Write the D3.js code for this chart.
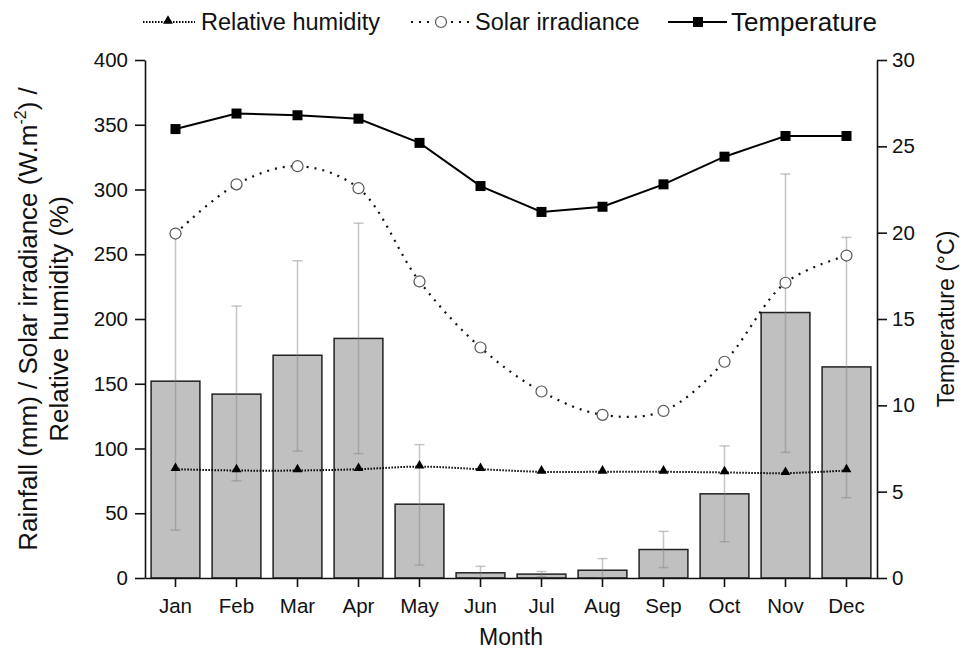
<!DOCTYPE html>
<html>
<head>
<meta charset="utf-8">
<script src="https://cdn.jsdelivr.net/npm/d3@7"></script>
<style>
  body { margin: 0; background: #fff; }
  svg text { font-family: Arial, "Liberation Sans", sans-serif; fill: #111; }
</style>
</head>
<body>
<div class="chart"></div>
<script>
// monthly values
var months = ["Jan","Feb","Mar","Apr","May","Jun","Jul","Aug","Sep","Oct","Nov","Dec"];
var rainfall     = [152, 142, 172, 185, 57, 4, 3, 6, 22, 65, 205, 163];
var rainfallLow  = [37, 75, 98, 96, 10, 0, 1, 0, 8, 28, 97, 62];
var rainfallHigh = [265, 210, 245, 274, 103, 9, 5, 15, 36, 102, 312, 263];
var humidity     = [84, 83, 83, 84, 86, 84, 82, 82, 82, 81.5, 81, 83];
var solar        = [266, 304, 318, 301, 229, 178, 144, 126, 129, 167, 228, 249];
var temperature  = [26.0, 26.9, 26.8, 26.6, 25.2, 22.7, 21.2, 21.5, 22.8, 24.4, 25.6, 25.6];
var leftTicks  = [0, 50, 100, 150, 200, 250, 300, 350, 400];
var rightTicks = [0, 5, 10, 15, 20, 25, 30];

function wrapper(){

  var w = 965, h = 649;
  var plot = {left: 145, right: 877, top: 60, bottom: 578};

  var svg = d3.select("div.chart")
              .append("svg")
              .attr("width", w)
              .attr("height", h);

  var x = d3.scaleBand()
            .domain(months)
            .range([plot.left, plot.right])
            .paddingInner(0.2)
            .paddingOuter(0.1);
  var yL = d3.scaleLinear().domain([0, 400]).range([plot.bottom, plot.top]);
  var yR = d3.scaleLinear().domain([0, 30]).range([plot.bottom, plot.top]);

  var cx = function(i){ return x(months[i]) + x.bandwidth()/2; };

  var rows = months.map(function(m, i){
    return {
      month: m,
      rain: rainfall[i],
      lo: rainfallLow[i],
      hi: rainfallHigh[i],
      rh: humidity[i],
      solar: solar[i],
      temp: temperature[i],
      i: i
    };
  });

  //bars
  svg.append("g")
     .selectAll("rect")
     .data(rows)
     .enter()
     .append("rect")
        .attr("x", d => x(d.month))
        .attr("y", d => yL(d.rain))
        .attr("width", x.bandwidth())
        .attr("height", d => yL(0) - yL(d.rain))
        .attr("fill", "#c0c0c0")
        .attr("stroke", "#222")
        .attr("stroke-width", 1.5);

  //error bars
  var err = svg.append("g")
               .attr("stroke", "#808080")
               .attr("stroke-opacity", 0.45)
               .attr("stroke-width", 1.5);
  err.selectAll(".stem")
     .data(rows)
     .enter()
     .append("line")
        .attr("x1", d => cx(d.i))
        .attr("x2", d => cx(d.i))
        .attr("y1", d => yL(d.lo))
        .attr("y2", d => yL(d.hi));
  ["lo", "hi"].forEach(function(k){
    err.selectAll(".cap-" + k)
       .data(rows)
       .enter()
       .append("line")
          .attr("x1", d => cx(d.i) - 5)
          .attr("x2", d => cx(d.i) + 5)
          .attr("y1", d => yL(d[k]))
          .attr("y2", d => yL(d[k]));
  });

  //axes
  function styleAxis(g){
    g.selectAll("path, line").attr("stroke", "#111").attr("stroke-width", 1.6);
    g.selectAll("text").attr("font-size", 20.5).attr("fill", "#111");
  }

  svg.append("g")
     .attr("transform", `translate(${plot.left},0)`)
     .call(d3.axisLeft(yL).tickValues(leftTicks).tickSize(10).tickPadding(7).tickSizeOuter(0))
     .call(styleAxis);

  svg.append("g")
     .attr("transform", `translate(${plot.right},0)`)
     .call(d3.axisRight(yR).tickValues(rightTicks).tickSize(10).tickPadding(5).tickSizeOuter(0))
     .call(styleAxis);

  svg.append("g")
     .attr("transform", `translate(0,${plot.bottom})`)
     .call(d3.axisBottom(x).tickSize(9).tickPadding(11).tickSizeOuter(0))
     .call(styleAxis);

  //humidity line
  var rhLine = d3.line()
                 .x(d => cx(d.i))
                 .y(d => yL(d.rh))
                 .curve(d3.curveCatmullRom);
  svg.append("path")
     .datum(rows)
     .attr("d", rhLine)
     .attr("fill", "none")
     .attr("stroke", "#000")
     .attr("stroke-width", 2)
     .attr("stroke-dasharray", "1.5,1.5");

  //solar line
  var solarLine = d3.line()
                    .x(d => cx(d.i))
                    .y(d => yL(d.solar))
                    .curve(d3.curveCatmullRom);
  svg.append("path")
     .datum(rows)
     .attr("d", solarLine)
     .attr("fill", "none")
     .attr("stroke", "#111")
     .attr("stroke-width", 2.2)
     .attr("stroke-dasharray", "2,6");

  //temperature line
  var tempLine = d3.line()
                   .x(d => cx(d.i))
                   .y(d => yR(d.temp));
  svg.append("path")
     .datum(rows)
     .attr("d", tempLine)
     .attr("fill", "none")
     .attr("stroke", "#000")
     .attr("stroke-width", 2);

  //markers
  var tri = d3.symbol().type(d3.symbolTriangle).size(42);
  svg.append("g")
     .selectAll("path")
     .data(rows)
     .enter()
     .append("path")
        .attr("d", tri)
        .attr("transform", d => `translate(${cx(d.i)},${yL(d.rh) - 1})`)
        .attr("fill", "#000");

  svg.append("g")
     .selectAll("circle")
     .data(rows)
     .enter()
     .append("circle")
        .attr("cx", d => cx(d.i))
        .attr("cy", d => yL(d.solar))
        .attr("r", 5.5)
        .attr("fill", "#fff")
        .attr("stroke", "#555")
        .attr("stroke-width", 1.2);

  svg.append("g")
     .selectAll("rect")
     .data(rows)
     .enter()
     .append("rect")
        .attr("x", d => cx(d.i) - 5)
        .attr("y", d => yR(d.temp) - 5)
        .attr("width", 10)
        .attr("height", 10)
        .attr("fill", "#000");

  //axis titles
  svg.append("text")
     .attr("x", (plot.left + plot.right)/2)
     .attr("y", 645)
     .attr("text-anchor", "middle")
     .attr("font-size", 23)
     .text("Month");

  var midY = (plot.top + plot.bottom)/2;
  var lt = svg.append("text")
              .attr("transform", `translate(37,${midY}) rotate(-90)`)
              .attr("text-anchor", "middle")
              .attr("font-size", 26);
  lt.append("tspan").text("Rainfall (mm) / Solar irradiance (W.m");
  lt.append("tspan").attr("font-size", 16).attr("dy", -11).text("-2");
  lt.append("tspan").attr("dy", 11).text(") /");

  svg.append("text")
     .attr("transform", `translate(68,${midY}) rotate(-90)`)
     .attr("text-anchor", "middle")
     .attr("font-size", 26)
     .text("Relative humidity (%)");

  svg.append("text")
     .attr("transform", `translate(954,${midY}) rotate(-90)`)
     .attr("text-anchor", "middle")
     .attr("font-size", 23)
     .text("Temperature (°C)");

  //legend
  var ly = 22;
  var leg = svg.append("g");

  leg.append("line").attr("x1", 143).attr("x2", 195).attr("y1", ly).attr("y2", ly)
     .attr("stroke", "#000").attr("stroke-width", 2).attr("stroke-dasharray", "1.5,1.5");
  leg.append("path").attr("d", tri).attr("transform", `translate(168,${ly - 1})`).attr("fill", "#000");
  leg.append("text").attr("x", 201).attr("y", ly + 8).attr("font-size", 23.5).text("Relative humidity");

  leg.append("line").attr("x1", 411).attr("x2", 469).attr("y1", ly).attr("y2", ly)
     .attr("stroke", "#111").attr("stroke-width", 2.2).attr("stroke-dasharray", "2,6");
  leg.append("circle").attr("cx", 441).attr("cy", ly).attr("r", 5.5)
     .attr("fill", "#fff").attr("stroke", "#555").attr("stroke-width", 1.2);
  leg.append("text").attr("x", 475).attr("y", ly + 8).attr("font-size", 23.5).text("Solar irradiance");

  leg.append("line").attr("x1", 668).attr("x2", 727).attr("y1", ly).attr("y2", ly)
     .attr("stroke", "#000").attr("stroke-width", 2);
  leg.append("rect").attr("x", 693).attr("y", ly - 5).attr("width", 10).attr("height", 10).attr("fill", "#000");
  leg.append("text").attr("x", 731).attr("y", ly + 9).attr("font-size", 26).text("Temperature");
}
window.onload = wrapper;
</script>
</body>
</html>
